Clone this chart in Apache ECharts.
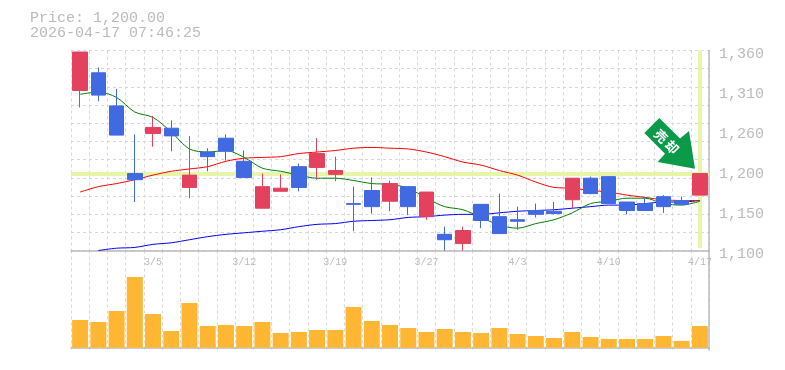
<!DOCTYPE html>
<html><head><meta charset="utf-8">
<style>html,body{margin:0;padding:0;background:#fff}#c{width:785px;height:370px}</style>
<script src="https://cdn.jsdelivr.net/npm/echarts@6/dist/echarts.min.js"></script>
</head><body><div id="c"></div>
<script>
const dates = ['2/27','3/2','3/3','3/4','3/5','3/6','3/9','3/10','3/11','3/12','3/13','3/16','3/17','3/18','3/19','3/23','3/24','3/25','3/26','3/27','3/30','3/31','4/1','4/2','4/3','4/6','4/7','4/8','4/9','4/10','4/13','4/14','4/15','4/16','4/17'];
const opens  = [1308,1331,1288,1200,1252,1259,1182,1228,1246,1216,1155,1177,1209,1208,1199,1161,1178,1164,1183,1144,1121,1109,1160,1144,1140,1152,1151,1166,1194,1196,1163,1161,1170,1165,1172];
const closes = [1358,1302,1250,1192,1260,1249,1198,1222,1229,1195,1183,1181,1182,1226,1204,1160,1157,1187,1157,1176,1114,1126,1139,1122,1138,1147,1148,1194,1174,1161,1152,1152,1157,1160,1200];
const lows   = [1286,1294,1250,1163,1235,1229,1168,1203,1217,1195,1155,1177,1177,1192,1190,1125,1148,1151,1146,1140,1100,1100,1129,1122,1127,1143,1147,1155,1173,1161,1147,1152,1149,1160,1172];
const highs  = [1358,1338,1310,1251,1275,1269,1249,1233,1251,1230,1200,1199,1213,1246,1222,1183,1195,1191,1183,1176,1131,1131,1160,1174,1157,1161,1163,1194,1196,1196,1163,1170,1172,1170,1200];
const maShort = [1303,1306,1299,1280,1273,1254,1232,1228,1230,1221,1207,1203,1198,1194,1194,1191,1187,1186,1181,1168,1157,1153,1143,1133,1129,1135,1140,1149,1161,1164,1168,1168,1161,1159,1164];
const maMid   = [1176,1183,1187,1192,1198,1203,1206,1209,1216,1220,1221,1222,1226,1228,1230,1233,1234,1233,1232,1228,1222,1215,1211,1204,1198,1189,1182,1181,1178,1176,1172,1169,1166,1165,1165];
const maLong  = [null,1100,1103,1104,1108,1110,1114,1118,1121,1123,1125,1127,1131,1134,1135,1138,1139,1140,1143,1144,1146,1147,1147,1149,1151,1152,1153,1155,1157,1159,1159,1161,1163,1163,1165];
const volumes = [27700,25700,36700,70700,33700,16700,44700,21700,22700,21700,25700,14700,15700,17700,17700,40700,26700,22700,19700,15700,18700,15700,14700,19700,13700,11700,9700,15700,10700,8700,8700,8700,11700,6700,21700];
const priceTicks = [1100,1152,1204,1256,1308,1360];
const priceGrid = [1100,1123.64,1147.27,1170.91,1194.55,1218.18,1241.82,1265.45,1289.09,1312.73,1336.36,1360];
const lastPrice = 1200;
const titleLines = ['Price: 1,200.00','2026-04-17 07:46:25'];
const arrowWords = ['売','却'];

const mono = '"Liberation Mono","DejaVu Sans Mono",monospace';
const gray = '#bbbbbb';
const dash = {show:true,lineStyle:{color:'#d8d8d8',type:[3,3],width:1}};
const axisL = {show:true,lineStyle:{color:gray,width:1.5}};
const catBase = {type:'category',data:dates,boundaryGap:true,axisTick:{show:false,interval:0},splitLine:Object.assign({interval:0},dash)};
const chart = echarts.init(document.getElementById('c'),null,{renderer:'canvas'});
const lineS = (name,data,color)=>({name,type:'line',data,xAxisIndex:0,yAxisIndex:0,symbol:'none',z:2,smooth:0.3,
  lineStyle:{color,width:1},itemStyle:{color},animation:false,connectNulls:false});
chart.setOption({
  animation:false,
  title:{text:titleLines.join('\n'),left:30,top:11,padding:0,textStyle:{fontFamily:mono,fontSize:15,fontWeight:'normal',color:gray,lineHeight:15}},
  grid:[{left:71,top:50.5,width:638,height:200},{left:71,top:250.5,width:638,height:99.5}],
  xAxis:[
    Object.assign({},catBase,{gridIndex:0,position:'bottom',axisLine:axisL,
      axisLabel:{show:true,interval:(i)=>(i%5)===4,color:gray,fontFamily:mono,fontSize:10,margin:7,hideOverlap:false}}),
    Object.assign({},catBase,{gridIndex:1,position:'bottom',axisLine:axisL,axisLabel:{show:false}})
  ],
  yAxis:[
    {type:'value',gridIndex:0,position:'right',min:1100,max:1360,scale:true,
      axisLine:Object.assign({onZero:false},axisL),
      axisTick:{show:false,customValues:priceGrid},splitLine:dash,
      axisLabel:{customValues:priceTicks,margin:10,align:'left',verticalAlign:'middle',
        rich:{p:{color:gray,fontFamily:mono,fontSize:15,padding:[8,0,0,0]}},
        formatter:v=>{const r=Math.round(v/10)*10;return '{p|'+r.toString().replace(/\B(?=(\d{3})+$)/g,',')+'}';}}},
    {type:'value',gridIndex:1,position:'right',min:-2300,max:97200,
      axisLine:Object.assign({onZero:false},axisL),axisTick:{show:false},axisLabel:{show:false},splitLine:{show:false}}
  ],
  series:[
    {name:'Last',type:'line',data:[],xAxisIndex:0,yAxisIndex:0,symbol:'none',z:1,
      markLine:{silent:true,symbol:'none',z:1,animation:false,label:{show:false},
        lineStyle:{color:'#e6f5aa',width:4,type:'solid'},
        data:[{yAxis:lastPrice},
          [{coord:[dates[34],1360]},{coord:[dates[34],1103]}]]}},
    lineS('MA long',maLong,'#0000ff'),
    lineS('MA mid',maMid,'#ff0000'),
    lineS('MA short',maShort,'#008000'),
    {name:'Candle',type:'candlestick',xAxisIndex:0,yAxisIndex:0,z:3,barWidth:15,clip:true,
      data:dates.map((d,i)=>[opens[i],closes[i],lows[i],highs[i]]),
      itemStyle:{color:'#e4415f',color0:'#4169e1',borderColor:'#e4415f',borderColor0:'#4169e1',borderWidth:1}},
    {name:'Volume',type:'bar',xAxisIndex:1,yAxisIndex:1,data:volumes,barWidth:16,itemStyle:{color:'#ffb733'},z:3}
  ],
  graphic:[
    {type:'polygon',z:10,shape:{points:[[659.3,118],[644.3,133],[665,153.7],[657.7,162],[695,168.7],[689,131],[680,138.5]]},style:{fill:'#0a9a4a'}},
    {type:'text',z:11,x:661,y:136,rotation:-Math.PI/4,style:{text:arrowWords[0],fill:'#fff',font:'bold 13px "Noto Sans CJK JP"',align:'center',verticalAlign:'middle'}},
    {type:'text',z:11,x:672,y:147,rotation:-Math.PI/4,style:{text:arrowWords[1],fill:'#fff',font:'bold 13px "Noto Sans CJK JP"',align:'center',verticalAlign:'middle'}}
  ]
});
</script></body></html>
